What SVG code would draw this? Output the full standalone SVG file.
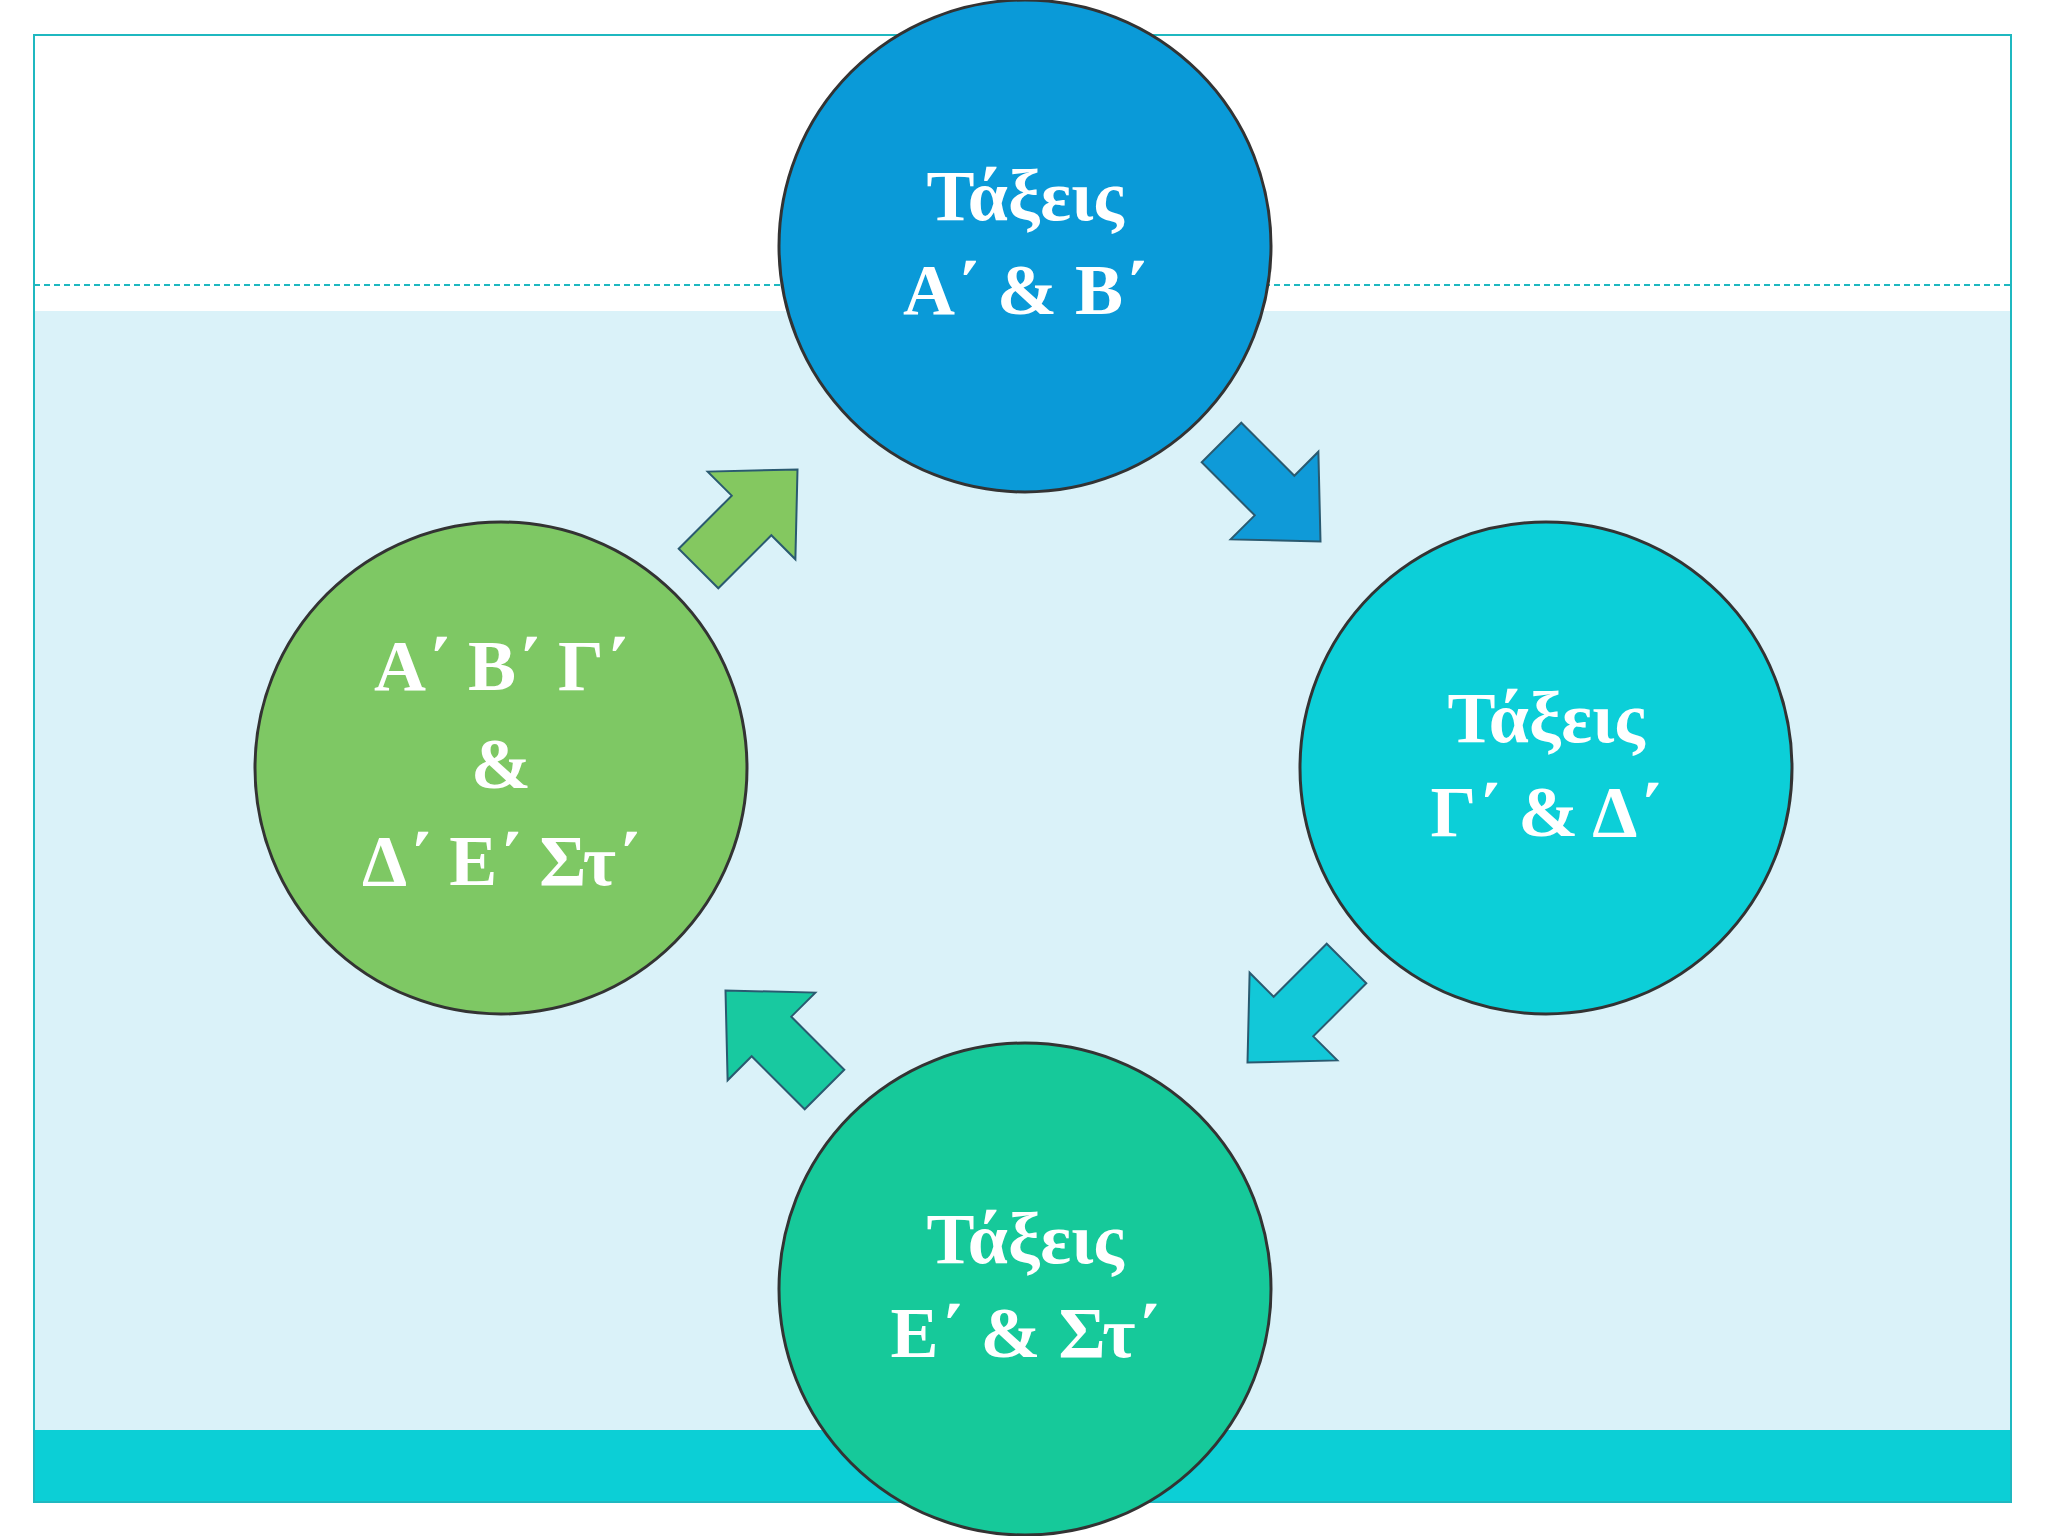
<svg xmlns="http://www.w3.org/2000/svg" width="2048" height="1536" viewBox="0 0 2048 1536">
<style>
.c{stroke:#333;stroke-width:3}
.t{font-family:"Liberation Serif","DejaVu Serif",serif;font-weight:bold;font-size:72px;fill:#fff;text-anchor:middle}
.a{stroke:#2a5a70;stroke-width:2}
</style>
<defs>
<path id="arr" d="M-70,-28 L5,-28 L5,-62 L70,0 L5,62 L5,28 L-70,28 Z"/>
</defs>
<rect width="2048" height="1536" fill="#fff"/>
<rect x="34" y="311" width="1977" height="1119" fill="#daf2f9"/>
<rect x="34" y="1430" width="1977" height="72" fill="#0ccfd6"/>
<rect x="34" y="35" width="1977" height="1467" fill="none" stroke="#1fb8c0" stroke-width="2"/>
<line x1="34" y1="285" x2="2011" y2="285" stroke="#1fb8c0" stroke-width="2" stroke-dasharray="6,4"/>
<g id="connectors">
<use href="#arr" class="a" fill="#0f9ad8" transform="translate(1271,492) rotate(45)"/>
<use href="#arr" class="a" fill="#12c8d8" transform="translate(1297,1013) rotate(135)"/>
<use href="#arr" class="a" fill="#18c9a0" transform="translate(775,1040) rotate(225)"/>
<use href="#arr" class="a" fill="#84c860" transform="translate(748,519) rotate(-45)"/>
</g>
<g id="n1"><circle class="c" cx="1025" cy="246" r="246" fill="#0a9ad8"/>
<text class="t" x="1025" y="220">Τάξεις</text><text class="t" x="1025" y="314">Α΄ &amp; Β΄</text></g>
<g id="n2"><circle class="c" cx="1546" cy="768" r="246" fill="#0ccfd8"/>
<text class="t" x="1546" y="742">Τάξεις</text><text class="t" x="1546" y="836">Γ΄ &amp; Δ΄</text></g>
<g id="n3"><circle class="c" cx="1025" cy="1289" r="246" fill="#16c99a"/>
<text class="t" x="1025" y="1263">Τάξεις</text><text class="t" x="1025" y="1357">Ε΄ &amp; Στ΄</text></g>
<g id="n4"><circle class="c" cx="501" cy="768" r="246" fill="#7ec864"/>
<text class="t" x="501" y="690">Α΄ Β΄ Γ΄</text><text class="t" x="501" y="788">&amp;</text><text class="t" x="501" y="885">Δ΄ Ε΄ Στ΄</text></g>
</svg>
